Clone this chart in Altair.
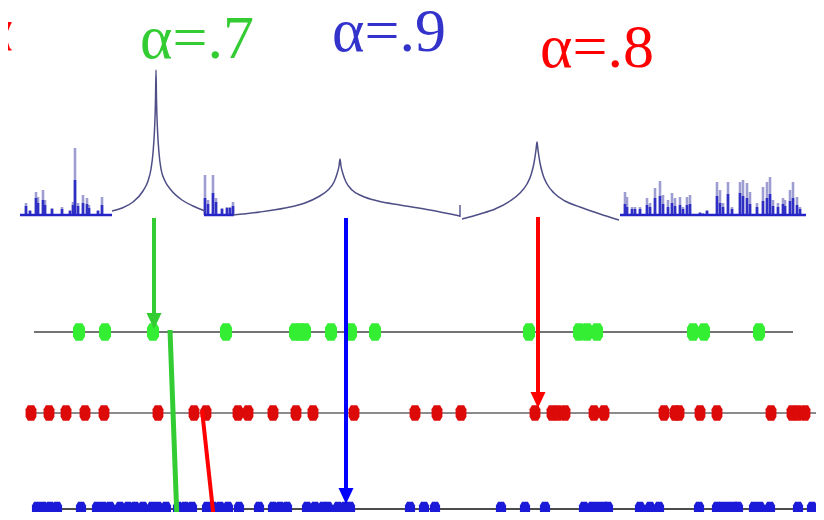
import altair as alt
import pandas as pd

# ---------------- data (pixel coordinates) ----------------
title_texts = ["α=.7", "α=.9", "α=.8"]
title_x = [140, 332, 540]
title_y = [58, 51, 67]
title_colors = ["#33cc33", "#3333cc", "#ff0000"]

# left histogram
hist_a_x = [26, 30, 36, 38, 43, 45, 52, 62, 70, 73, 75, 78, 83, 87, 89, 98, 102]
hist_a_top = [203, 210, 192, 197, 190, 200, 208, 207, 210, 202, 148, 203, 195, 198, 205, 210, 197]
hist_a_dark = [206, 211, 198, 203, 200, 205, 209, 209, 211, 205, 180, 206, 203, 204, 208, 211, 205]
# small middle histogram
hist_b_x = [205, 208, 213, 216, 222, 227, 230, 233]
hist_b_top = [175, 200, 175, 198, 208, 207, 207, 202]
hist_b_dark = [198, 204, 193, 202, 209, 208, 208, 206]
# right histogram
hist_c_x = [625, 627, 632, 635, 640, 647, 650, 655, 660, 663, 668, 672, 675, 680, 683, 687, 690,
            700, 703, 707, 717, 720, 723, 728, 732, 740, 743, 747, 750, 757, 763, 767, 770, 773,
            778, 783, 785, 790, 793, 797, 800]
hist_c_top = [192, 197, 207, 207, 207, 198, 203, 188, 181, 195, 200, 193, 198, 197, 207, 197, 195,
              212, 213, 210, 182, 190, 203, 182, 207, 182, 180, 183, 192, 203, 187, 182, 177, 200,
              203, 198, 200, 190, 182, 197, 207]
hist_c_dark = [204, 207, 209, 209, 209, 205, 207, 198, 196, 204, 207, 203, 206, 205, 209, 205, 204,
               213, 214, 211, 196, 203, 207, 194, 209, 193, 196, 198, 204, 207, 201, 198, 194, 206,
               207, 204, 206, 201, 198, 205, 209]
hist_baselines = [(20, 112), (204, 234), (620, 806)]
hist_base_y = 215

# peaked curves (x, y)
curve1 = [(112, 211), (122, 208), (133, 202), (143, 191), (148, 181), (151, 169), (153, 153),
          (154.5, 130), (155.5, 100), (156, 70), (156.5, 100), (157.5, 130), (159, 153),
          (161, 169), (165, 181), (171, 190), (182, 200), (193, 206), (205, 211)]
curve2 = [(233, 215), (260, 212), (285, 208), (305, 203), (318, 197), (328, 190), (334, 182),
          (337, 174), (339, 166), (340, 159), (341, 166), (343, 174), (346, 182), (352, 190),
          (362, 196), (378, 201), (400, 205), (430, 210), (460, 216)]
curve3 = [(462, 219), (480, 214), (495, 209), (510, 201), (520, 193), (527, 184), (531, 175),
          (534, 163), (536, 150), (537, 142), (538, 150), (540, 163), (543, 175), (547, 184),
          (554, 193), (565, 201), (580, 207), (600, 214), (619, 220)]
tick_460 = (460, 205, 217)

# number lines (x1, x2, y)
row_lines = [(34, 793, 332, "#444444"), (28, 820, 413, "#666666"), (34, 824, 509, "#111111")]

green_dots = [79, 105, 153, 226, 295, 300, 305, 331, 351, 375, 529, 579, 587, 597, 693, 704, 759]
red_dots = [31, 49, 66, 85, 104, 158, 194, 206, 238, 248, 273, 296, 313, 354, 415, 437, 461,
            535, 552, 558, 565, 594, 604, 664, 675, 679, 700, 717, 771, 792, 798, 805]
blue_dots = [37, 43, 50, 57, 81, 97, 103, 110, 120, 128, 135, 143, 152, 158, 166, 178, 185, 192,
             207, 213, 220, 228, 239, 259, 273, 280, 287, 307, 315, 323, 328, 338, 345, 350,
             410, 424, 435, 501, 525, 545, 584, 592, 598, 604, 608, 640, 650, 659, 699,
             717, 722, 728, 734, 738, 754, 760, 770, 798, 812]

# arrows: x, y start, tip y, colour
arrows = [(154, 218, 329, "#33cc33"), (346, 218, 504, "#0000ff"), (538, 217, 408, "#ff0000")]
# slanted lines: x1, y1, x2, y2, colour, width
slants = [(170, 330, 177, 520, "#33cc33", 5), (202, 410, 214, 520, "#ff0000", 4)]

# ---------------- chart ----------------
xs = alt.Scale(domain=[8, 816], nice=False, zero=False)
ys = alt.Scale(domain=[8, 512], reverse=True, nice=False, zero=False)


def X(f="x"):
    return alt.X(f"{f}:Q", scale=xs, axis=None)


def Y(f="y"):
    return alt.Y(f"{f}:Q", scale=ys, axis=None)


layers = []

# histograms
hist_rows = []
for xs_, tops, darks in [(hist_a_x, hist_a_top, hist_a_dark), (hist_b_x, hist_b_top, hist_b_dark),
                         (hist_c_x, hist_c_top, hist_c_dark)]:
    for x, t, d in zip(xs_, tops, darks):
        hist_rows.append({"x": x, "top": t, "dark": d, "base": hist_base_y})
hist_df = pd.DataFrame(hist_rows)
layers.append(alt.Chart(hist_df).mark_rule(color="#9d9dd2", strokeWidth=2.6).encode(
    x=X(), y=Y("top"), y2="base"))
layers.append(alt.Chart(hist_df).mark_rule(color="#2f2fc6", strokeWidth=2.6).encode(
    x=X(), y=Y("dark"), y2="base"))
base_df = pd.DataFrame([{"x": a, "x2": b, "y": hist_base_y} for a, b in hist_baselines])
layers.append(alt.Chart(base_df).mark_rule(color="#2424c8", strokeWidth=2.5).encode(
    x=X(), x2="x2", y=Y()))

# curves
crows = []
for i, c in enumerate([curve1, curve2, curve3]):
    for j, (x, y) in enumerate(c):
        crows.append({"seg": i, "order": j, "x": x, "y": y})
curve_df = pd.DataFrame(crows)
layers.append(alt.Chart(curve_df).mark_line(color="#4f4f88", strokeWidth=1.5,
                                            interpolate="monotone").encode(
    x=X(), y=Y(), detail="seg:N", order="order:Q"))
tick_df = pd.DataFrame([{"x": tick_460[0], "y": tick_460[1], "y2": tick_460[2]}])
layers.append(alt.Chart(tick_df).mark_rule(color="#4f4f88", strokeWidth=1.4).encode(
    x=X(), y=Y(), y2="y2"))

# number lines
rl_df = pd.DataFrame([{"x": a, "x2": b, "y": y, "c": c} for a, b, y, c in row_lines])
layers.append(alt.Chart(rl_df).mark_rule(strokeWidth=1.6).encode(
    x=X(), x2="x2", y=Y(), color=alt.Color("c:N", scale=None)))

octagon = "M-0.4,-1 L0.4,-1 L0.7,-0.5 L0.7,0.5 L0.4,1 L-0.4,1 L-0.7,0.5 L-0.7,-0.5 Z"
for dots, y, col, size in [(green_dots, 332, "#33ee33", 300), (red_dots, 413, "#dd0a0a", 240),
                           (blue_dots, 509, "#1a1ad8", 210)]:
    ddf = pd.DataFrame({"x": dots, "y": [y] * len(dots)})
    layers.append(alt.Chart(ddf).mark_point(shape=octagon, filled=True, color=col, opacity=1,
                                            size=size, strokeWidth=0).encode(x=X(), y=Y()))

# arrows
arr_df = pd.DataFrame([{"x": x, "y": y0, "tip": t, "shaft_end": t - 8, "c": c}
                       for x, y0, t, c in arrows])
layers.append(alt.Chart(arr_df).mark_rule(strokeWidth=4).encode(
    x=X(), y=Y(), y2="shaft_end", color=alt.Color("c:N", scale=None)))
head = "M0,0 L-0.47,-1 L0.47,-1 Z"
layers.append(alt.Chart(arr_df).mark_point(shape=head, filled=True, opacity=1, size=1024,
                                           strokeWidth=0).encode(
    x=X(), y=Y("tip"), color=alt.Color("c:N", scale=None)))

sl_df = pd.DataFrame([{"x": a, "y": b, "x2": c, "y2": d, "col": col, "w": w}
                      for a, b, c, d, col, w in slants])
layers.append(alt.Chart(sl_df).mark_rule().encode(
    x=X(), y=Y(), x2="x2", y2="y2", color=alt.Color("col:N", scale=None),
    strokeWidth=alt.StrokeWidth("w:Q", scale=None)))

# titles
tdf = pd.DataFrame({"x": title_x, "y": title_y, "t": title_texts, "c": title_colors})
layers.append(alt.Chart(tdf).mark_text(font="Liberation Serif", fontSize=62, align="left",
                                       baseline="alphabetic").encode(
    x=X(), y=Y(), text="t:N", color=alt.Color("c:N", scale=None)))
pdf = pd.DataFrame({"x": [13], "y": [50], "t": ["α"], "c": ["#ff0000"]})
layers.append(alt.Chart(pdf).mark_text(font="Liberation Serif", fontSize=62, align="right",
                                       baseline="alphabetic").encode(
    x=X(), y=Y(), text="t:N", color=alt.Color("c:N", scale=None)))

chart = alt.layer(*layers).properties(
    width=808, height=504, padding=0, autosize="none", background="white"
).configure_view(stroke=None)

chart.save("out.html", embed_options={"renderer": "svg", "actions": False})
